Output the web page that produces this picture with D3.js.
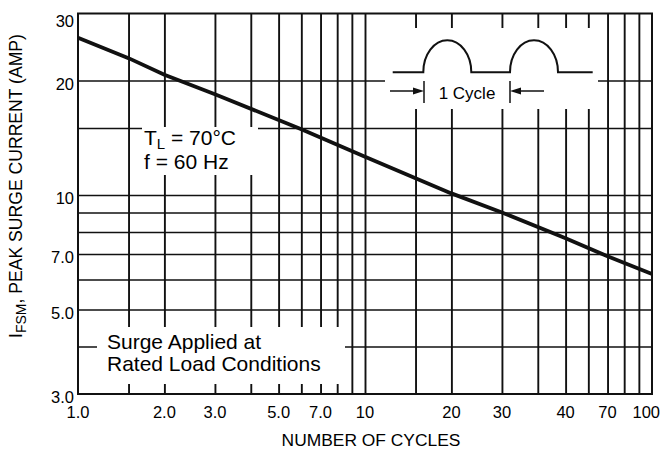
<!DOCTYPE html>
<html>
<head>
  <meta charset="utf-8">
  <title>Peak Surge Current vs Number of Cycles</title>
<style>
body { margin: 0; background: #fff; }
svg text { font-family: "Liberation Sans", Arial, Helvetica, sans-serif; fill: #000; }
.grid line { stroke: #111; }
.grid path { display: none; }
.tick-label { font-size: 16.5px; }
.note { font-size: 21px; }
</style>
</head>
<body>
<svg id="chart" width="662" height="450"></svg>
<script src="https://cdnjs.cloudflare.com/ajax/libs/d3/7.8.5/d3.min.js"></script>
<script>
var cycles = [1, 1.5, 2, 3, 6, 10, 20, 30, 50, 70, 100];
var amps   = [25.9, 22.9, 20.7, 18.4, 14.9, 12.6, 10.1, 9.0, 7.7, 6.9, 6.2];

var xGrid = [1.5, 2, 3, 4, 5, 6, 7, 8, 9, 10, 15, 20, 30, 40, 50, 60, 70, 80, 90];
var yGrid = [4, 5, 6, 7, 8, 9, 10, 15, 20];

var xTickVals = [1, 2, 3, 5, 7, 10, 20, 30, 50, 70, 100];
var xTickText = ["1.0", "2.0", "3.0", "5.0", "7.0", "10", "20", "30", "40", "70", "100"];
var yTickVals = [3, 5, 7, 10, 20, 30];
var yTickText = ["3.0", "5.0", "7.0", "10", "20", "30"];

var svg = d3.select("#chart");
var pL = 78, pR = 652, pT = 13.5, pB = 394;

var x = d3.scaleLog().domain([1, 100]).range([pL, pR]);
var y = d3.scaleLog().domain([3, 30]).range([pB, pT]);

// grid
svg.append("g")
    .attr("class", "grid")
    .attr("transform", "translate(0," + pB + ")")
    .call(d3.axisBottom(x).tickValues(xGrid).tickSize(-(pB - pT)).tickFormat(""))
  .selectAll("line").style("stroke-width", 1.9);

svg.append("g")
    .attr("class", "grid")
    .attr("transform", "translate(" + pL + ",0)")
    .call(d3.axisLeft(y).tickValues(yGrid).tickSize(-(pR - pL)).tickFormat(""))
  .selectAll("line").style("stroke-width", 1.5);

// white boxes that cut the grid (annotations sit on them)
var boxes = [
  {x0: 142, y0: 127, x1: 258, y1: 175},
  {x0: 385, y0: 28, x1: 598, y1: 109},
  {x0: 97, y0: 327, x1: 345, y1: 384}
];
svg.selectAll("rect.box")
  .data(boxes)
  .enter().append("rect")
    .attr("class", "box")
    .attr("x", function (d) { return d.x0; })
    .attr("y", function (d) { return d.y0; })
    .attr("width", function (d) { return d.x1 - d.x0; })
    .attr("height", function (d) { return d.y1 - d.y0; })
    .attr("fill", "#fff");

// frame
svg.append("rect")
    .attr("x", pL).attr("y", pT)
    .attr("width", pR - pL).attr("height", pB - pT)
    .attr("fill", "none").attr("stroke", "#111").attr("stroke-width", 2);

// curve
var line = d3.line()
    .x(function (d) { return x(d[0]); })
    .y(function (d) { return y(d[1]); });
svg.append("path")
    .datum(d3.zip(cycles, amps))
    .attr("d", line)
    .attr("fill", "none")
    .attr("stroke", "#111")
    .attr("stroke-width", 3.8);

// tick labels
svg.append("g").selectAll("text")
  .data(xTickVals)
  .enter().append("text")
    .attr("class", "tick-label")
    .attr("y", 418)
    .attr("text-anchor", "middle")
    .text(function (d, i) { return xTickText[i]; })
    .attr("x", function (d) {
      var w = this.getComputedTextLength();
      return Math.min(x(d), 660 - w / 2);
    });

svg.append("g").selectAll("text")
  .data(yTickVals)
  .enter().append("text")
    .attr("class", "tick-label")
    .attr("x", 74)
    .attr("y", function (d) { return Math.max(y(d) + 3, 21); })
    .attr("dominant-baseline", "central")
    .attr("text-anchor", "end")
    .text(function (d, i) { return yTickText[i]; });

// axis titles
svg.append("text")
    .attr("x", (282 + 460) / 2)
    .attr("y", 446)
    .attr("text-anchor", "middle")
    .style("font-size", "17.4px")
    .text("NUMBER OF CYCLES");

var yt = svg.append("text")
    .attr("transform", "translate(22,186) rotate(-90)")
    .attr("text-anchor", "middle")
    .style("font-size", "17.6px");
yt.append("tspan").text("I");
yt.append("tspan").attr("dy", 4).style("font-size", "14px").text("FSM");
yt.append("tspan").attr("dy", -4).text(", PEAK SURGE CURRENT (AMP)");

// T_L / f note
var t1 = svg.append("text").attr("class", "note").attr("x", 144).attr("y", 145);
t1.append("tspan").text("T");
t1.append("tspan").attr("dy", 4).style("font-size", "15px").text("L");
t1.append("tspan").attr("dy", -4).text(" = 70\u00B0C");
svg.append("text").attr("class", "note").attr("x", 144).attr("y", 169).text("f = 60 Hz");

// surge note
svg.append("text").attr("class", "note").attr("x", 107).attr("y", 349).text("Surge Applied at");
svg.append("text").attr("class", "note").attr("x", 107).attr("y", 371).text("Rated Load Conditions");

// waveform inset
var base = 72.3, h = 32, hw = 24;
var wave = "M392.7," + base +
  "L423.3," + base +
  "A" + hw + "," + h + " 0 0 1 471.3," + base +
  "L510," + base +
  "A" + hw + "," + h + " 0 0 1 558," + base +
  "L592.7," + base;
svg.append("path")
    .attr("d", wave)
    .attr("fill", "none")
    .attr("stroke", "#111")
    .attr("stroke-width", 2);

var inset = svg.append("g").attr("stroke", "#111").attr("stroke-width", 1.5);
inset.append("line").attr("x1", 424).attr("x2", 424).attr("y1", 81).attr("y2", 103);
inset.append("line").attr("x1", 510).attr("x2", 510).attr("y1", 81).attr("y2", 103);
inset.append("line").attr("x1", 390).attr("x2", 416).attr("y1", 91).attr("y2", 91);
inset.append("line").attr("x1", 518).attr("x2", 544).attr("y1", 91).attr("y2", 91);
svg.append("path").attr("d", "M424,91L413,87.5L413,94.5Z").attr("fill", "#111");
svg.append("path").attr("d", "M510,91L521,87.5L521,94.5Z").attr("fill", "#111");
svg.append("text")
    .attr("x", 467).attr("y", 98.5)
    .attr("text-anchor", "middle")
    .style("font-size", "17px")
    .text("1 Cycle");
</script>
</body>
</html>
